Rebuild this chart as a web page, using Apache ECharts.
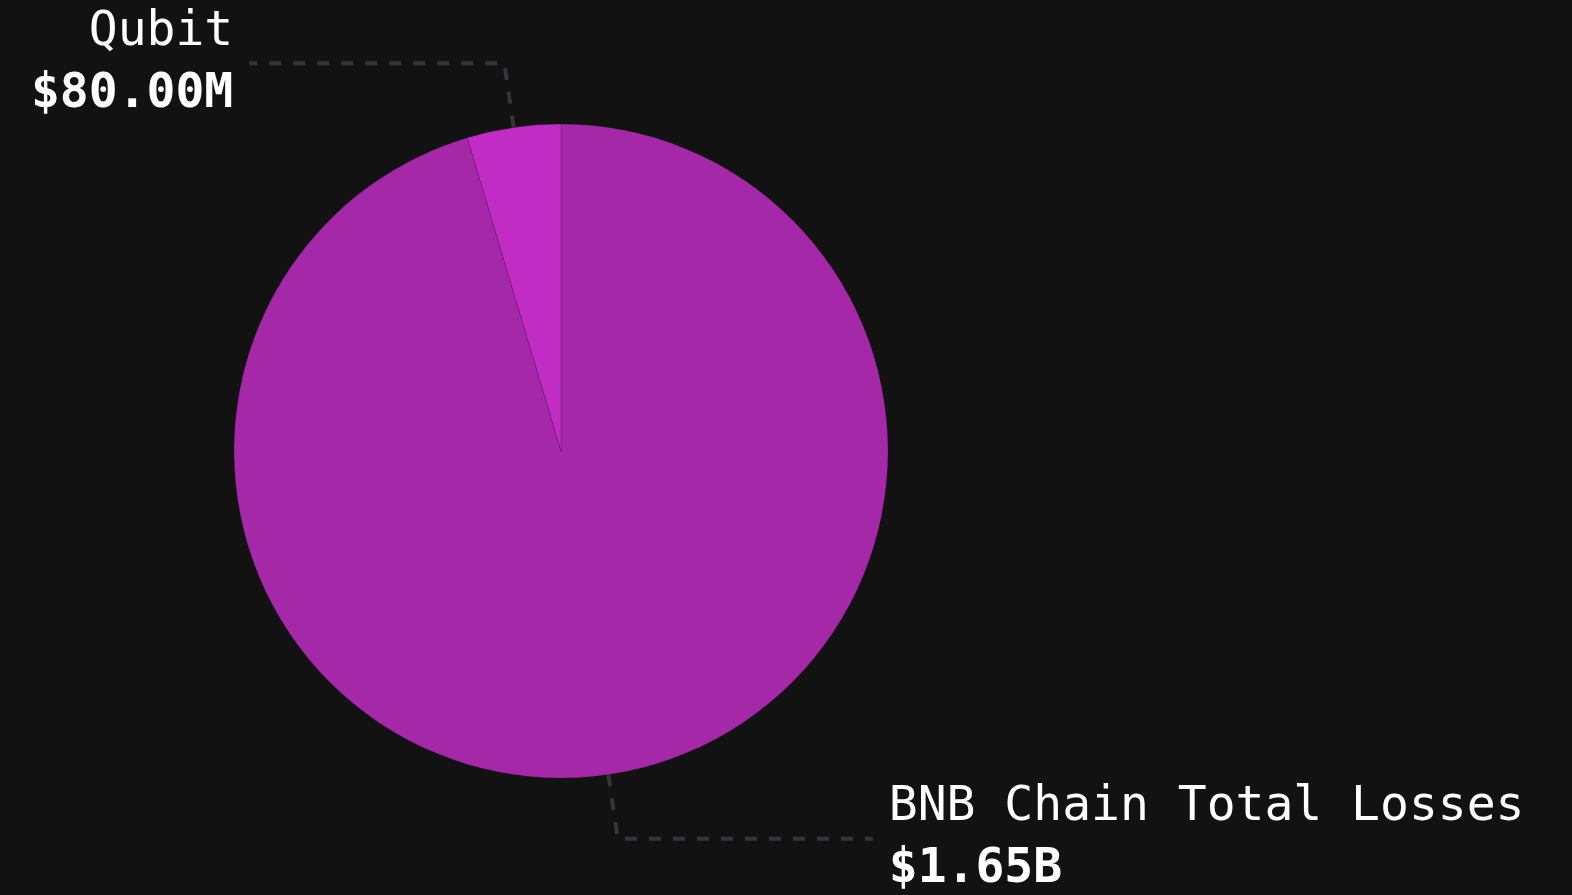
<!DOCTYPE html>
<html>
<head>
<meta charset="utf-8">
<script src="https://cdn.jsdelivr.net/npm/echarts@6/dist/echarts.min.js"></script>
<style>
html,body{margin:0;padding:0;background:#121212;}
#chart{width:1572px;height:895px;}
</style>
</head>
<body>
<div id="chart"></div>
<script>
const categories = ['BNB Chain Total Losses', 'Qubit'];
const valuesMillions = [1650, 80];
const sliceColors = ['#A428A8', '#C02CC4'];

function fmtMoney(v) {
  return v >= 1000 ? '$' + (v / 1000).toFixed(2) + 'B' : '$' + v.toFixed(2) + 'M';
}

const chart = echarts.init(document.getElementById('chart'), null, {renderer: 'canvas'});
chart.setOption({
  backgroundColor: '#121212',
  animation: false,
  series: [{
    type: 'pie',
    center: [561, 451],
    radius: 327,
    startAngle: 90,
    clockwise: true,
    avoidLabelOverlap: false,
    data: categories.map((c, i) => ({
      name: c,
      value: valuesMillions[i],
      itemStyle: {color: sliceColors[i]}
    })),
    itemStyle: {borderColor: 'rgba(0,0,0,0.12)', borderWidth: 1},
    label: {
      show: true,
      position: 'outside',
      distanceToLabelLine: 16,
      formatter: p => '{n|' + p.name + '}\n{v|' + fmtMoney(p.value) + '}',
      rich: {
        n: {fontFamily: 'DejaVu Sans Mono', fontSize: 48, lineHeight: 62, color: '#ffffff', fontWeight: 'normal'},
        v: {fontFamily: 'DejaVu Sans Mono', fontSize: 48, lineHeight: 62, color: '#ffffff', fontWeight: 'bold'}
      }
    },
    labelLine: {
      show: true,
      length: 65,
      length2: 255,
      smooth: false,
      lineStyle: {color: '#34343a', width: 4, type: [12, 12]}
    },
    emphasis: {disabled: true}
  }]
});
</script>
</body>
</html>
